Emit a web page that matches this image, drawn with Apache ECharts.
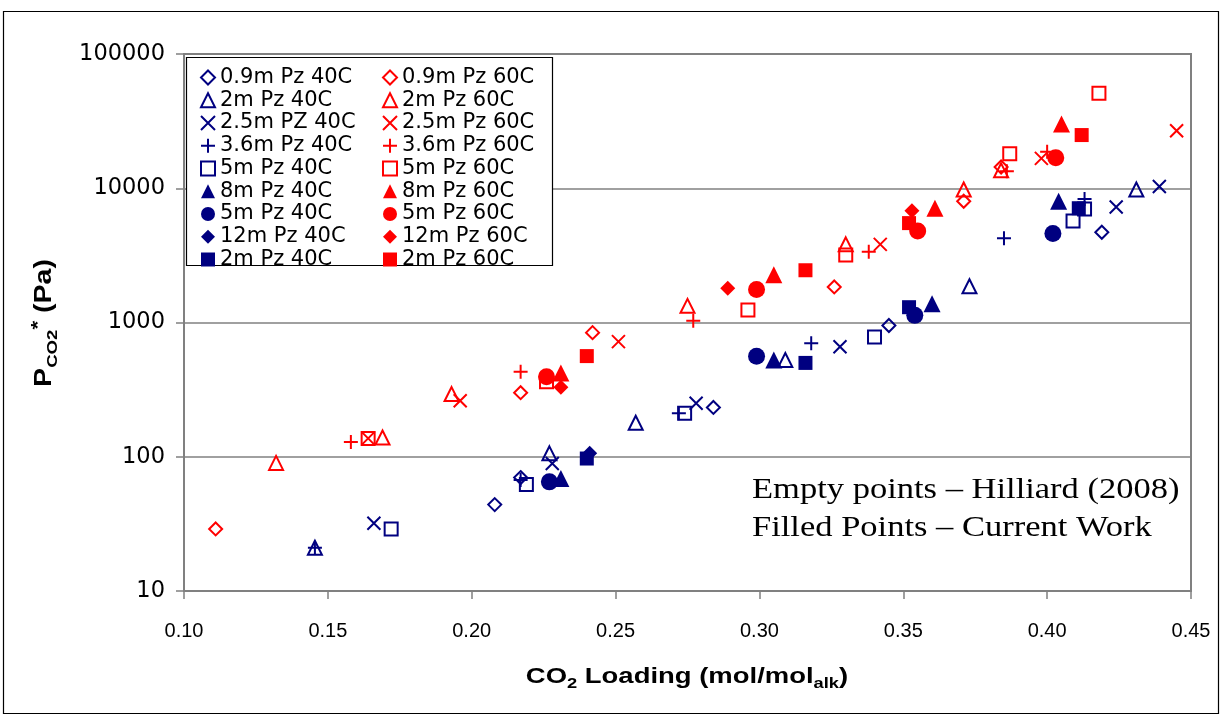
<!DOCTYPE html>
<html>
<head>
<meta charset="utf-8">
<script src="https://cdn.jsdelivr.net/npm/echarts@6/dist/echarts.min.js"></script>
<style>
  html, body { margin: 0; padding: 0; background: #fff; }
  #chart { width: 1220px; height: 715px; }
</style>
</head>
<body>
<div id="chart"></div>
<script>
// Axis ticks
const xTicks = [0.10, 0.15, 0.20, 0.25, 0.30, 0.35, 0.40, 0.45];
const yTicks = [10, 100, 1000, 10000, 100000];

// CO2 loading (mol/mol alk) vs P*CO2 (Pa), 40 C sets
const pz09_40 = [[0.208, 44], [0.217, 70], [0.284, 233], [0.345, 950], [0.419, 4700]];
const pz2_40h = [[0.1455, 21], [0.227, 106], [0.257, 179], [0.309, 525], [0.373, 1860], [0.431, 9800]];
const pz25_40 = [[0.166, 32], [0.228, 89], [0.278, 250], [0.328, 660], [0.424, 7250], [0.439, 10300]];
const pz36_40 = [[0.1455, 21], [0.217, 67], [0.272, 211], [0.318, 700], [0.385, 4250], [0.413, 8300]];
const pz5_40h = [[0.172, 29], [0.219, 62], [0.274, 211], [0.340, 780], [0.409, 5700], [0.413, 7000]];
const pz8_40 = [[0.231, 69], [0.305, 525], [0.360, 1380], [0.404, 8000]];
const pz5_40f = [[0.227, 65], [0.299, 560], [0.354, 1130], [0.402, 4600]];
const pz12_40 = [[0.241, 106]];
const pz2_40f = [[0.240, 97], [0.316, 500], [0.352, 1300], [0.411, 7100]];

// 60 C sets
const pz09_60 = [[0.111, 29], [0.217, 300], [0.242, 840], [0.326, 1840], [0.371, 8000], [0.384, 14400]];
const pz2_60h = [[0.132, 90], [0.169, 139], [0.193, 293], [0.275, 1330], [0.330, 3820], [0.371, 9800], [0.384, 13600]];
const pz25_60 = [[0.164, 137], [0.196, 261], [0.251, 720], [0.342, 3820], [0.398, 16700], [0.445, 26800]];
const pz36_60 = [[0.158, 129], [0.217, 430], [0.277, 1030], [0.338, 3360], [0.386, 13400], [0.400, 18700]];
const pz5_60h = [[0.164, 137], [0.226, 362], [0.296, 1240], [0.330, 3180], [0.387, 18100], [0.418, 51000]];
const pz8_60 = [[0.231, 420], [0.305, 2270], [0.361, 7110], [0.405, 30100]];
const pz5_60f = [[0.226, 394], [0.299, 1760], [0.355, 4810], [0.403, 16900]];
const pz12_60 = [[0.231, 329], [0.289, 1800], [0.353, 6800]];
const pz2_60f = [[0.240, 562], [0.316, 2450], [0.352, 5500], [0.412, 24900]];

// Legend names (trailing spaces keep repeated labels distinct)
const names40 = ['0.9m Pz 40C', '2m Pz 40C', '2.5m PZ 40C', '3.6m Pz 40C', '5m Pz 40C', '8m Pz 40C', '5m Pz 40C ', '12m Pz 40C', '2m Pz 40C '];
const names60 = ['0.9m Pz 60C', '2m Pz 60C', '2.5m Pz 60C', '3.6m Pz 60C', '5m Pz 60C', '8m Pz 60C', '5m Pz 60C ', '12m Pz 60C', '2m Pz 60C '];

const BLUE = '#000080';
const RED = '#ff0000';

const SANS = 'Liberation Sans, Arial, sans-serif';
const WIDE = 'DejaVu Sans, Verdana, sans-serif';

const CROSS = 'path://M0,0L10,10M10,0L0,10';
const PLUS = 'path://M5,0L5,10M0,5L10,5';

// marker styles in legend order: [symbol, size, hollow]
const markers = [
  ['diamond', 13, true],
  ['triangle', 14, true],
  [CROSS, 13, true],
  [PLUS, 14, true],
  ['rect', 13, true],
  ['triangle', 17, false],
  ['circle', 17, false],
  ['diamond', 15, false],
  ['rect', 14, false]
];

const sets40 = [pz09_40, pz2_40h, pz25_40, pz36_40, pz5_40h, pz8_40, pz5_40f, pz12_40, pz2_40f];
const sets60 = [pz09_60, pz2_60h, pz25_60, pz36_60, pz5_60h, pz8_60, pz5_60f, pz12_60, pz2_60f];

function makeSeries(names, sets, color) {
  return names.map((name, i) => {
    const [symbol, size, hollow] = markers[i];
    return {
      name: name,
      type: 'scatter',
      data: sets[i],
      symbol: symbol,
      symbolSize: size,
      itemStyle: hollow
        ? { color: 'rgba(255,255,255,0)', borderColor: color, borderWidth: 2, opacity: 1 }
        : { color: color, borderWidth: 0, opacity: 1 },
      emphasis: { disabled: true }
    };
  });
}

const series = makeSeries(names40, sets40, BLUE).concat(makeSeries(names60, sets60, RED));

const legendBase = {
  orient: 'vertical',
  top: 62,
  itemWidth: 14,
  itemHeight: 14,
  itemGap: 1.75,
  selectedMode: false,
  formatter: n => n.trim(),
  textStyle: { fontSize: 21, lineHeight: 21, color: '#000', fontFamily: WIDE }
};

const chart = echarts.init(document.getElementById('chart'), null, { renderer: 'canvas' });

chart.setOption({
  animation: false,
  backgroundColor: '#fff',
  grid: { left: 184, right: 29, top: 54, bottom: 124, show: true, borderColor: '#808080', borderWidth: 2 },
  xAxis: {
    type: 'value',
    min: xTicks[0],
    max: xTicks[xTicks.length - 1],
    interval: 0.05,
    axisLine: { lineStyle: { color: '#808080', width: 2 } },
    axisTick: { show: true, length: 8, lineStyle: { color: '#808080', width: 1.5 } },
    splitLine: { show: false },
    axisLabel: {
      margin: 30,
      fontSize: 20,
      color: '#000',
      fontFamily: SANS,
      formatter: v => v.toFixed(2)
    }
  },
  yAxis: {
    type: 'log',
    logBase: 10,
    min: yTicks[0],
    max: yTicks[yTicks.length - 1],
    axisLine: { show: true, lineStyle: { color: '#808080', width: 2 } },
    axisTick: { show: true, length: 8, lineStyle: { color: '#808080', width: 1.5 } },
    minorTick: { show: false },
    splitLine: { show: true, lineStyle: { color: '#808080', width: 1.5 } },
    axisLabel: {
      margin: 19,
      fontSize: 22.5,
      color: '#000',
      fontFamily: WIDE,
      formatter: v => String(Math.round(v))
    }
  },
  legend: [
    Object.assign({}, legendBase, { left: 195, data: names40 }),
    Object.assign({}, legendBase, { left: 377, data: names60 })
  ],
  graphic: [
    {
      type: 'rect', z: -10, silent: true,
      shape: { x: 3.5, y: 11.5, width: 1215, height: 702 },
      style: { fill: '#fff', stroke: '#000', lineWidth: 1.2 }
    },
    {
      type: 'rect', z: 1, silent: true,
      shape: { x: 186.5, y: 57.5, width: 366, height: 208 },
      style: { fill: '#fff', stroke: '#000', lineWidth: 1.2 }
    },
    {
      type: 'text', silent: true,
      x: 45, y: 323, rotation: Math.PI / 2, scaleX: 1.24,
      style: {
        text: '{b|P}{s|CO2}{u|*}{b| (Pa)}',
        align: 'center', verticalAlign: 'middle',
        rich: {
          b: { fontSize: 23, fontWeight: 'bold', fontFamily: SANS, fill: '#000', lineHeight: 30 },
          s: { fontSize: 15, fontWeight: 'bold', fontFamily: SANS, fill: '#000', verticalAlign: 'bottom', lineHeight: 15 },
          u: { fontSize: 18, fontWeight: 'bold', fontFamily: SANS, fill: '#000', verticalAlign: 'top', lineHeight: 16 }
        }
      }
    },
    {
      type: 'text', silent: true,
      x: 687, y: 677, scaleX: 1.22,
      style: {
        text: '{b|CO}{s|2}{b| Loading (mol/mol}{s|alk}{b|)}',
        align: 'center', verticalAlign: 'middle',
        rich: {
          b: { fontSize: 22.5, fontWeight: 'bold', fontFamily: SANS, fill: '#000', lineHeight: 28 },
          s: { fontSize: 15, fontWeight: 'bold', fontFamily: SANS, fill: '#000', verticalAlign: 'bottom', lineHeight: 15 }
        }
      }
    },
    {
      type: 'text', silent: true,
      x: 752, y: 490, scaleX: 1.19,
      style: {
        text: 'Empty points \u2013 Hilliard (2008)',
        fontSize: 29, fontFamily: 'Liberation Serif, Times New Roman, serif', fill: '#000',
        verticalAlign: 'middle'
      }
    },
    {
      type: 'text', silent: true,
      x: 752, y: 528, scaleX: 1.19,
      style: {
        text: 'Filled Points \u2013 Current Work',
        fontSize: 29, fontFamily: 'Liberation Serif, Times New Roman, serif', fill: '#000',
        verticalAlign: 'middle'
      }
    }
  ],
  series: series
});
</script>
</body>
</html>
